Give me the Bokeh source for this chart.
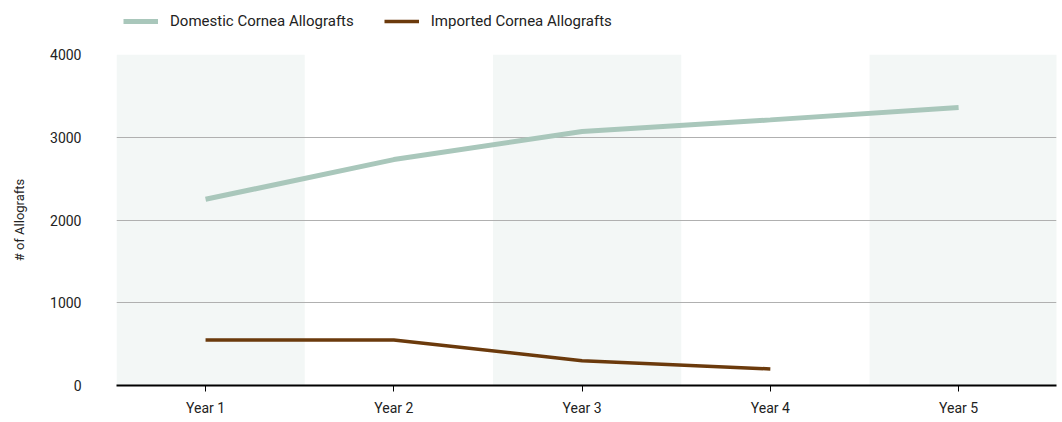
from bokeh.plotting import figure
from bokeh.layouts import column
from bokeh.models import Range1d, FixedTicker, Legend, LegendItem, ColumnDataSource
from bokeh.embed import file_html
from bokeh.resources import INLINE

years = ["Year 1", "Year 2", "Year 3", "Year 4", "Year 5"]
domestic = [2250, 2730, 3070, 3210, 3360]
imported = [550, 550, 300, 200]
y_ticks = [0, 1000, 2000, 3000, 4000]
band_years = [1, 3, 5]
series_names = ["Domestic Cornea Allografts", "Imported Cornea Allografts"]
series_colors = ["#a9c7bb", "#6b3a0c"]
series_widths = [5, 3.5]

FONT = "Roboto"
W = 1060

xs = list(range(1, len(years) + 1))
series_values = [domestic, imported]

# ---- legend strip (its sample lines lie outside its own view) ----
lg = figure(width=W, height=44, output_backend="svg", toolbar_location=None,
            x_range=Range1d(0, 0.1), y_range=Range1d(0, 0.1),
            min_border=0, x_axis_type=None, y_axis_type=None)
lg.outline_line_color = None
lg.xgrid.visible = False
lg.ygrid.visible = False
lg_items = []
for name, col, w, vals in zip(series_names, series_colors, series_widths, series_values):
    rr = lg.line(xs[:len(vals)], vals, line_color=col, line_width=w)
    lg_items.append(LegendItem(label=name, renderers=[rr]))
legend = Legend(items=lg_items, orientation="horizontal", location=(7, 13))
legend.label_text_font = FONT
legend.label_text_font_size = "15px"
legend.label_text_color = "#222222"
legend.border_line_color = None
legend.background_fill_alpha = 0
legend.glyph_width = 35
legend.glyph_height = 20
legend.label_height = 20
legend.label_standoff = 12
legend.spacing = 30
legend.padding = 0
legend.margin = 0
lg.add_layout(legend, "center")

# ---- main chart ----
p = figure(width=W, height=376, output_backend="svg", toolbar_location=None,
           x_range=Range1d(0.527, 5.52), y_range=Range1d(0, 4000),
           min_border_left=116, min_border_right=4, min_border_bottom=35, min_border_top=10)
p.outline_line_color = None
p.background_fill_color = "white"
p.border_fill_color = "white"

bsrc = ColumnDataSource(dict(left=[b - 0.473 for b in band_years], right=[b + 0.527 for b in band_years],
                             bottom=[0] * len(band_years), top=[4000] * len(band_years)))
p.quad(left="left", right="right", bottom="bottom", top="top", source=bsrc,
       fill_color="#f3f7f6", line_color=None, level="image")

p.line(xs, domestic, line_color=series_colors[0], line_width=series_widths[0])
p.line(xs[:len(imported)], imported, line_color=series_colors[1], line_width=series_widths[1])

p.xgrid.visible = False
p.ygrid.ticker = FixedTicker(ticks=y_ticks[1:])
p.ygrid.grid_line_color = "#b0b0b0"
p.ygrid.grid_line_width = 1

p.yaxis.ticker = FixedTicker(ticks=y_ticks)
p.yaxis.axis_line_color = None
p.yaxis.major_tick_line_color = None
p.yaxis.minor_tick_line_color = None
p.yaxis.major_label_standoff = 29
p.yaxis.major_label_text_font = FONT
p.yaxis.major_label_text_font_size = "14px"
p.yaxis.major_label_text_color = "#222222"
p.yaxis.axis_label = "# of Allografts"
p.yaxis.axis_label_text_font = FONT
p.yaxis.axis_label_text_font_size = "13px"
p.yaxis.axis_label_text_font_style = "normal"
p.yaxis.axis_label_text_color = "#222222"
p.yaxis.axis_label_standoff = 20

p.xaxis.ticker = FixedTicker(ticks=xs)
p.xaxis.major_label_overrides = {x: y for x, y in zip(xs, years)}
p.xaxis.axis_line_color = "black"
p.xaxis.axis_line_width = 2
p.xaxis.major_tick_line_color = "black"
p.xaxis.major_tick_out = 6
p.xaxis.major_tick_in = 0
p.xaxis.minor_tick_line_color = None
p.xaxis.major_label_standoff = 8
p.xaxis.major_label_text_font = FONT
p.xaxis.major_label_text_font_size = "14px"
p.xaxis.major_label_text_color = "#222222"

layout = column(lg, p, spacing=0)
open("out.html", "w").write(file_html(layout, INLINE))
